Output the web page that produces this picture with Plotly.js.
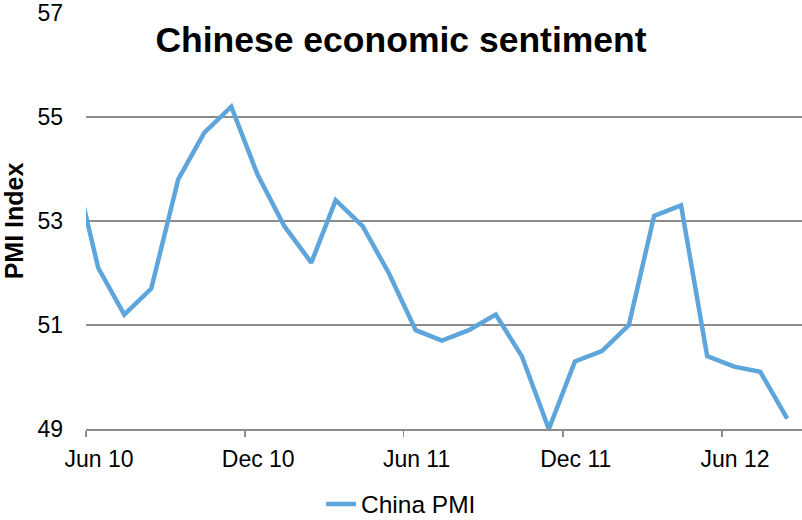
<!DOCTYPE html>
<html>
<head>
<meta charset="utf-8">
<script src="https://cdn.plot.ly/plotly-3.0.1.min.js"></script>
<style>html,body{margin:0;padding:0;background:#fff;}#chart{width:802px;height:520px;}</style>
</head>
<body>
<div id="chart"></div>
<script>
// Monthly China PMI (NBS), May 2010 - Aug 2012
const months = ['2010-05','2010-06','2010-07','2010-08','2010-09','2010-10','2010-11','2010-12',
  '2011-01','2011-02','2011-03','2011-04','2011-05','2011-06','2011-07','2011-08','2011-09','2011-10','2011-11','2011-12',
  '2012-01','2012-02','2012-03','2012-04','2012-05','2012-06','2012-07','2012-08'];
const pmi = [54.3,52.1,51.2,51.7,53.8,54.7,55.2,53.9,
  52.9,52.2,53.4,52.9,52.0,50.9,50.7,50.9,51.2,50.4,49.0,50.3,
  50.5,51.0,53.1,53.3,50.4,50.2,50.1,49.2];
const seriesName = 'China PMI';
const chartTitle = 'Chinese economic sentiment';
const yTitle = 'PMI Index';
const yTicks = [49,51,53,55,57];

const font = 'Liberation Sans, Arial, sans-serif';
const trace = {
  x: months.map(m => m + '-15'),
  y: pmi,
  type: 'scatter',
  mode: 'lines',
  name: seriesName,
  line: {color: '#5DA5DA', width: 4.5},
  hoverinfo: 'x+y'
};
const layout = {
  width: 802, height: 520,
  margin: {l: 86, r: 0, t: 13, b: 91, pad: 0},
  paper_bgcolor: '#ffffff', plot_bgcolor: '#ffffff',
  font: {family: font, size: 23, color: '#000000'},
  title: {text: chartTitle, font: {family: font, size: 35.5, weight: 'bold', color: '#000'},
    x: 0.5, xref: 'container', xanchor: 'center', y: 1 - 40/520, yref: 'container', yanchor: 'middle'},
  xaxis: {
    type: 'date', range: ['2010-06-01', '2012-09-01'],
    tick0: '2010-06-01', dtick: 'M6', tickformat: '%b %y',
    ticks: 'outside', ticklen: 6, tickwidth: 1.5, tickcolor: '#8c8c8c',
    showline: true, linecolor: '#8c8c8c', linewidth: 2,
    showgrid: false, zeroline: false, automargin: false,
    ticklabelshift: 13, ticklabelstandoff: 2,
    tickfont: {family: font, size: 23, color: '#000'}
  },
  yaxis: {
    range: [49, 57], tickvals: yTicks, ticktext: yTicks.map(String),
    showgrid: true, gridcolor: '#8c8c8c', gridwidth: 1.5,
    zeroline: false, showline: false, ticks: '', automargin: false,
    ticklabelstandoff: 22,
    tickfont: {family: font, size: 23, color: '#000'},
    title: {text: yTitle, font: {family: font, size: 25, weight: 'bold', color: '#000'}, standoff: 6}
  },
  showlegend: true,
  legend: {orientation: 'h', x: 0.44, xanchor: 'center', y: 1 - 504/520, yref: 'container', yanchor: 'middle',
    font: {family: font, size: 24.5, color: '#000'}, bgcolor: 'rgba(0,0,0,0)'}
};
Plotly.newPlot('chart', [trace], layout, {displayModeBar: false, staticPlot: true});
</script>
</body>
</html>
